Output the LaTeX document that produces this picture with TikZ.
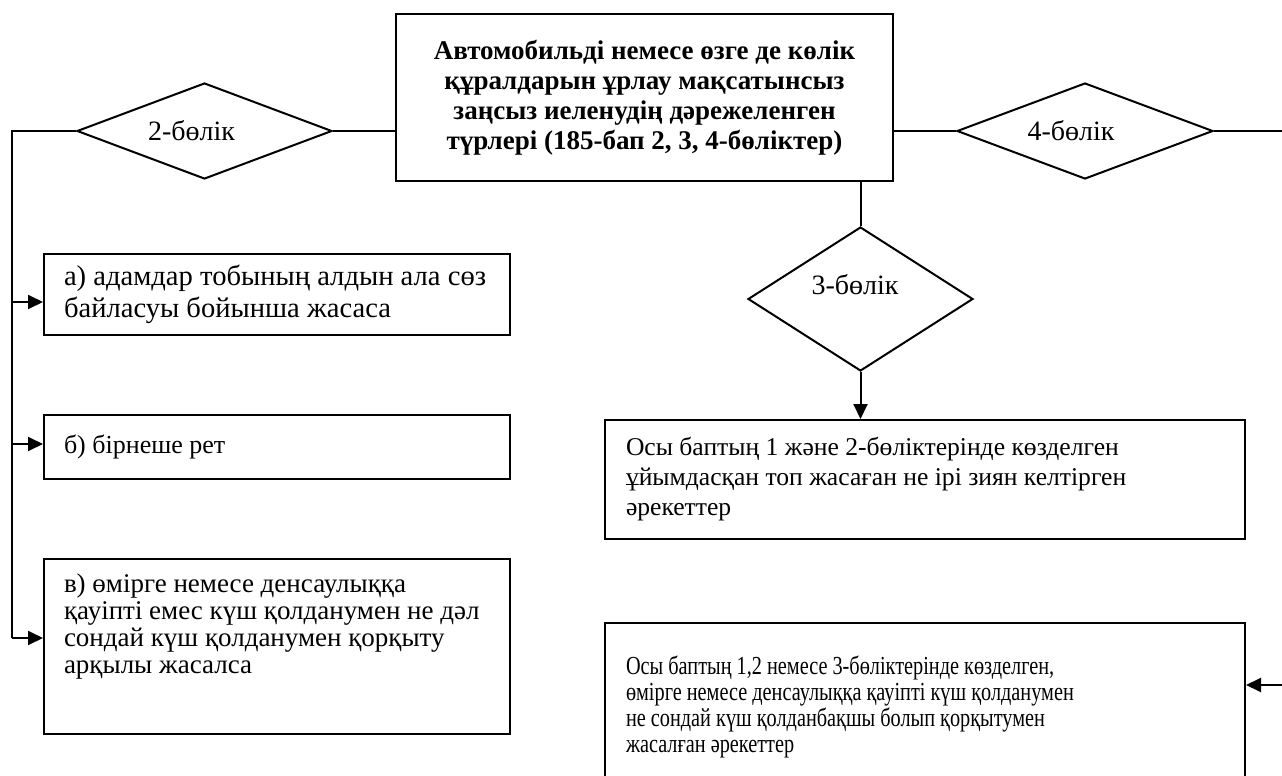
\documentclass[tikz,border=0pt]{standalone}
\usepackage{fontspec}
\setmainfont{Liberation Serif}
\newfontfamily\narrowserif[FakeStretch=0.78]{Liberation Serif}
\usetikzlibrary{shapes.geometric,arrows.meta}
\begin{document}
\begin{tikzpicture}[x=0.5pt,y=-0.5pt,line width=1pt,
		txt/.style={font=\fontsize{14}{16}\selectfont},
		boxn/.style={txt,draw,rectangle,anchor=north west,align=flush left,inner xsep=10pt,inner ysep=0pt},
		part/.style={draw,diamond,aspect=1,inner sep=0pt},
		arr/.style={-{Triangle[length=7.5pt,width=7pt]}}]
		\useasboundingbox (0,0) rectangle (1282,776);
		\clip (0,0) rectangle (1282,776);
		\node [draw,anchor=north west,minimum width=248.5pt,minimum height=83.5pt,align=center,font=\fontsize{13.5}{15}\selectfont\bfseries] (main) at (395,13)
			{Автомобильді немесе өзге де көлік\\құралдарын ұрлау мақсатынсыз\\заңсыз иеленудің дәрежеленген\\түрлері (185-бап 2, 3, 4-бөліктер)};
		\node [part,minimum width=127.5pt,minimum height=48pt,label={[txt,xshift=-6.5pt]center:2-бөлік}] (d2) at (204.5,131) {};
		\node [part,minimum width=128pt,minimum height=48pt,label={[txt,xshift=-7pt]center:4-бөлік}] (d4) at (1085,131) {};
		\node [part,minimum width=112.5pt,minimum height=72pt,label={[txt,xshift=-2.75pt,yshift=7pt]center:3-бөлік}] (d3) at (860.5,299) {};
		\node [boxn,minimum width=233pt,minimum height=40.5pt,text width=213pt,font=\fontsize{14.3}{16}\selectfont] (ba) at (43,253)
			{а) адамдар тобының алдын ала сөз\\байласуы бойынша жасаса};
		\node [boxn,minimum width=233pt,minimum height=32pt,text width=213pt,font=\fontsize{13}{15}\selectfont] (bb) at (43,414)
			{б) бірнеше рет};
		\node [boxn,minimum width=233pt,minimum height=87.5pt,text width=213pt,text depth=63.5pt,font=\fontsize{13.5}{13.5}\selectfont] (bv) at (43,558)
			{в) өмірге немесе денсаулыққа\\қауіпті емес күш қолданумен не дәл\\сондай күш қолданумен қорқыту\\арқылы жасалса};
		\node [boxn,minimum width=320pt,minimum height=59.5pt,text width=299pt,font=\fontsize{12.8}{15}\selectfont] (b3) at (604,419)
			{Осы баптың 1 және 2-бөліктерінде көзделген\\ұйымдасқан топ жасаған не ірі зиян келтірген\\әрекеттер};
		\node [boxn,minimum width=320pt,minimum height=84pt,text width=299pt,font=\narrowserif\fontsize{13}{13}\selectfont] (b4) at (604,622)
			{Осы баптың 1,2 немесе 3-бөліктерінде көзделген,\\өмірге немесе денсаулыққа қауіпті күш қолданумен\\не сондай күш қолданбақшы болып қорқытумен\\жасалған әрекеттер};
		\coordinate (lft) at (12,131);
		\coordinate (rgt) at (1296,685);
		\draw (d2.east) -- (d2.east -| main.west);
		\draw (main.east |- d4.west) -- (d4.west);
		\draw (d3.north |- main.south) -- (d3.north);
		\draw [arr] (d3.south) -- (d3.south |- b3.north);
		\draw (d2.west) -- (lft) -- (lft |- 0,638);
		\draw [arr] (lft |- 0,302) -- (ba.west |- 0,302);
		\draw [arr] (lft |- 0,444) -- (bb.west |- 0,444);
		\draw [arr] (lft |- 0,638) -- (bv.west |- 0,638);
		\draw (d4.east) -- (d4.east -| rgt) -- (rgt);
		\draw [arr] (rgt) -- (rgt -| b4.east);
	\end{tikzpicture}
\end{document}
